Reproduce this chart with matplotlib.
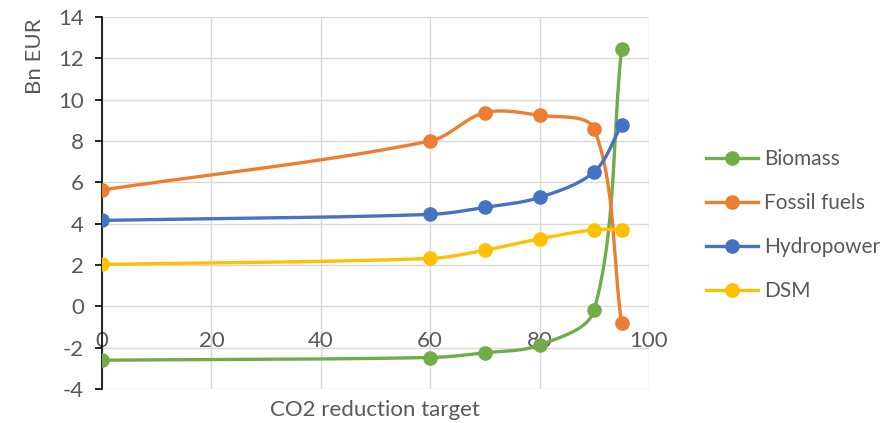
import numpy as np
import matplotlib
matplotlib.use("Agg")
import matplotlib.pyplot as plt

# --- dados ---
metas = [0, 60, 70, 80, 90, 95]
series = ["Biomass", "Fossil fuels", "Hydropower", "DSM"]
biomass = [-2.6, -2.47, -2.24, -1.87, -0.18, 12.45]
fossil = [5.63, 8.0, 9.37, 9.24, 8.58, -0.78]
hydro = [4.16, 4.45, 4.79, 5.27, 6.51, 8.76]
dsm = [2.03, 2.32, 2.72, 3.27, 3.71, 3.71]
valores = [biomass, fossil, hydro, dsm]
cores = ["#70AD47", "#ED7D31", "#4472C4", "#FFC000"]


def suavizar(xs, ys, sx=5.47, sy=20.67, n=40):
    # curva estilo "smoothed line" do Excel, calculada em pixels
    p = np.column_stack([np.array(xs) * sx, np.array(ys) * sy]).astype(float)
    p = np.vstack([p[0], p, p[-1]])
    out = []
    for i in range(1, len(p) - 2):
        p0, p1, p2, p3 = p[i - 1], p[i], p[i + 1], p[i + 2]
        d01 = np.linalg.norm(p1 - p0)
        d12 = np.linalg.norm(p2 - p1)
        d23 = np.linalg.norm(p3 - p2)
        c1 = p1 + (p2 - p0) * (d12 / (d01 + d12)) / 3 if d01 > 0 else p1 + (p2 - p1) / 3
        c2 = p2 - (p3 - p1) * (d12 / (d12 + d23)) / 3 if d23 > 0 else p2 - (p2 - p1) / 3
        t = np.linspace(0, 1, n)[:, None]
        b = (1 - t) ** 3 * p1 + 3 * (1 - t) ** 2 * t * c1 + 3 * (1 - t) * t ** 2 * c2 + t ** 3 * p2
        out.append(b if i == 1 else b[1:])
    out = np.vstack(out)
    return out[:, 0] / sx, out[:, 1] / sy


plt.rcParams['font.family'] = ['Lato', 'DejaVu Sans']
plt.rcParams['axes.unicode_minus'] = False
cinza = "#595959"
tam = 16

fig = plt.figure(figsize=(8.95, 4.23), dpi=100)
ax = fig.add_axes([0.114, 0.080, 0.611, 0.880])

for nome, ys, cor in zip(series, valores, cores):
    cx, cy = suavizar(metas, ys)
    ax.plot(cx, cy, color=cor, lw=2.4, zorder=3)
    ax.plot(metas, ys, 'o', color=cor, ms=9.5, zorder=4)
    ax.plot([], [], '-o', color=cor, lw=2.4, ms=9.5, label=nome)

ax.set_xlim(0, 100)
ax.set_ylim(-4, 14)
ax.set_xticks(range(0, 101, 20))
ax.set_yticks(range(-4, 15, 2))
ax.grid(True, color="#D9D9D9", lw=1, zorder=0)
ax.set_axisbelow(True)

for s in ["top", "right"]:
    ax.spines[s].set_visible(False)
ax.spines["bottom"].set_position(("data", 0))
ax.spines["bottom"].set_visible(False)
ax.spines["left"].set_color("black")
ax.spines["left"].set_linewidth(1.2)
ax.spines["left"].set_zorder(2)

ax.tick_params(axis="x", length=0, pad=18, labelsize=tam, labelcolor=cinza)
ax.tick_params(axis="y", direction="out", length=5, width=1.2, color="black",
               labelsize=tam, labelcolor=cinza, pad=8)

fig.text(35 / 895, 1 - 56 / 423, "Bn EUR", fontsize=tam, color=cinza,
         rotation=90, ha="center", va="center")
fig.text(375 / 895, 1 - 410 / 423, "CO2 reduction target", fontsize=tam, color=cinza,
         ha="center", va="center")

leg = ax.legend(loc="center left", bbox_to_anchor=(1.07, 0.44), frameon=False,
                fontsize=15, labelspacing=1.15, handlelength=2.5, handletextpad=0.3)
for t in leg.get_texts():
    t.set_color(cinza)

plt.savefig("out.png", dpi=100)
